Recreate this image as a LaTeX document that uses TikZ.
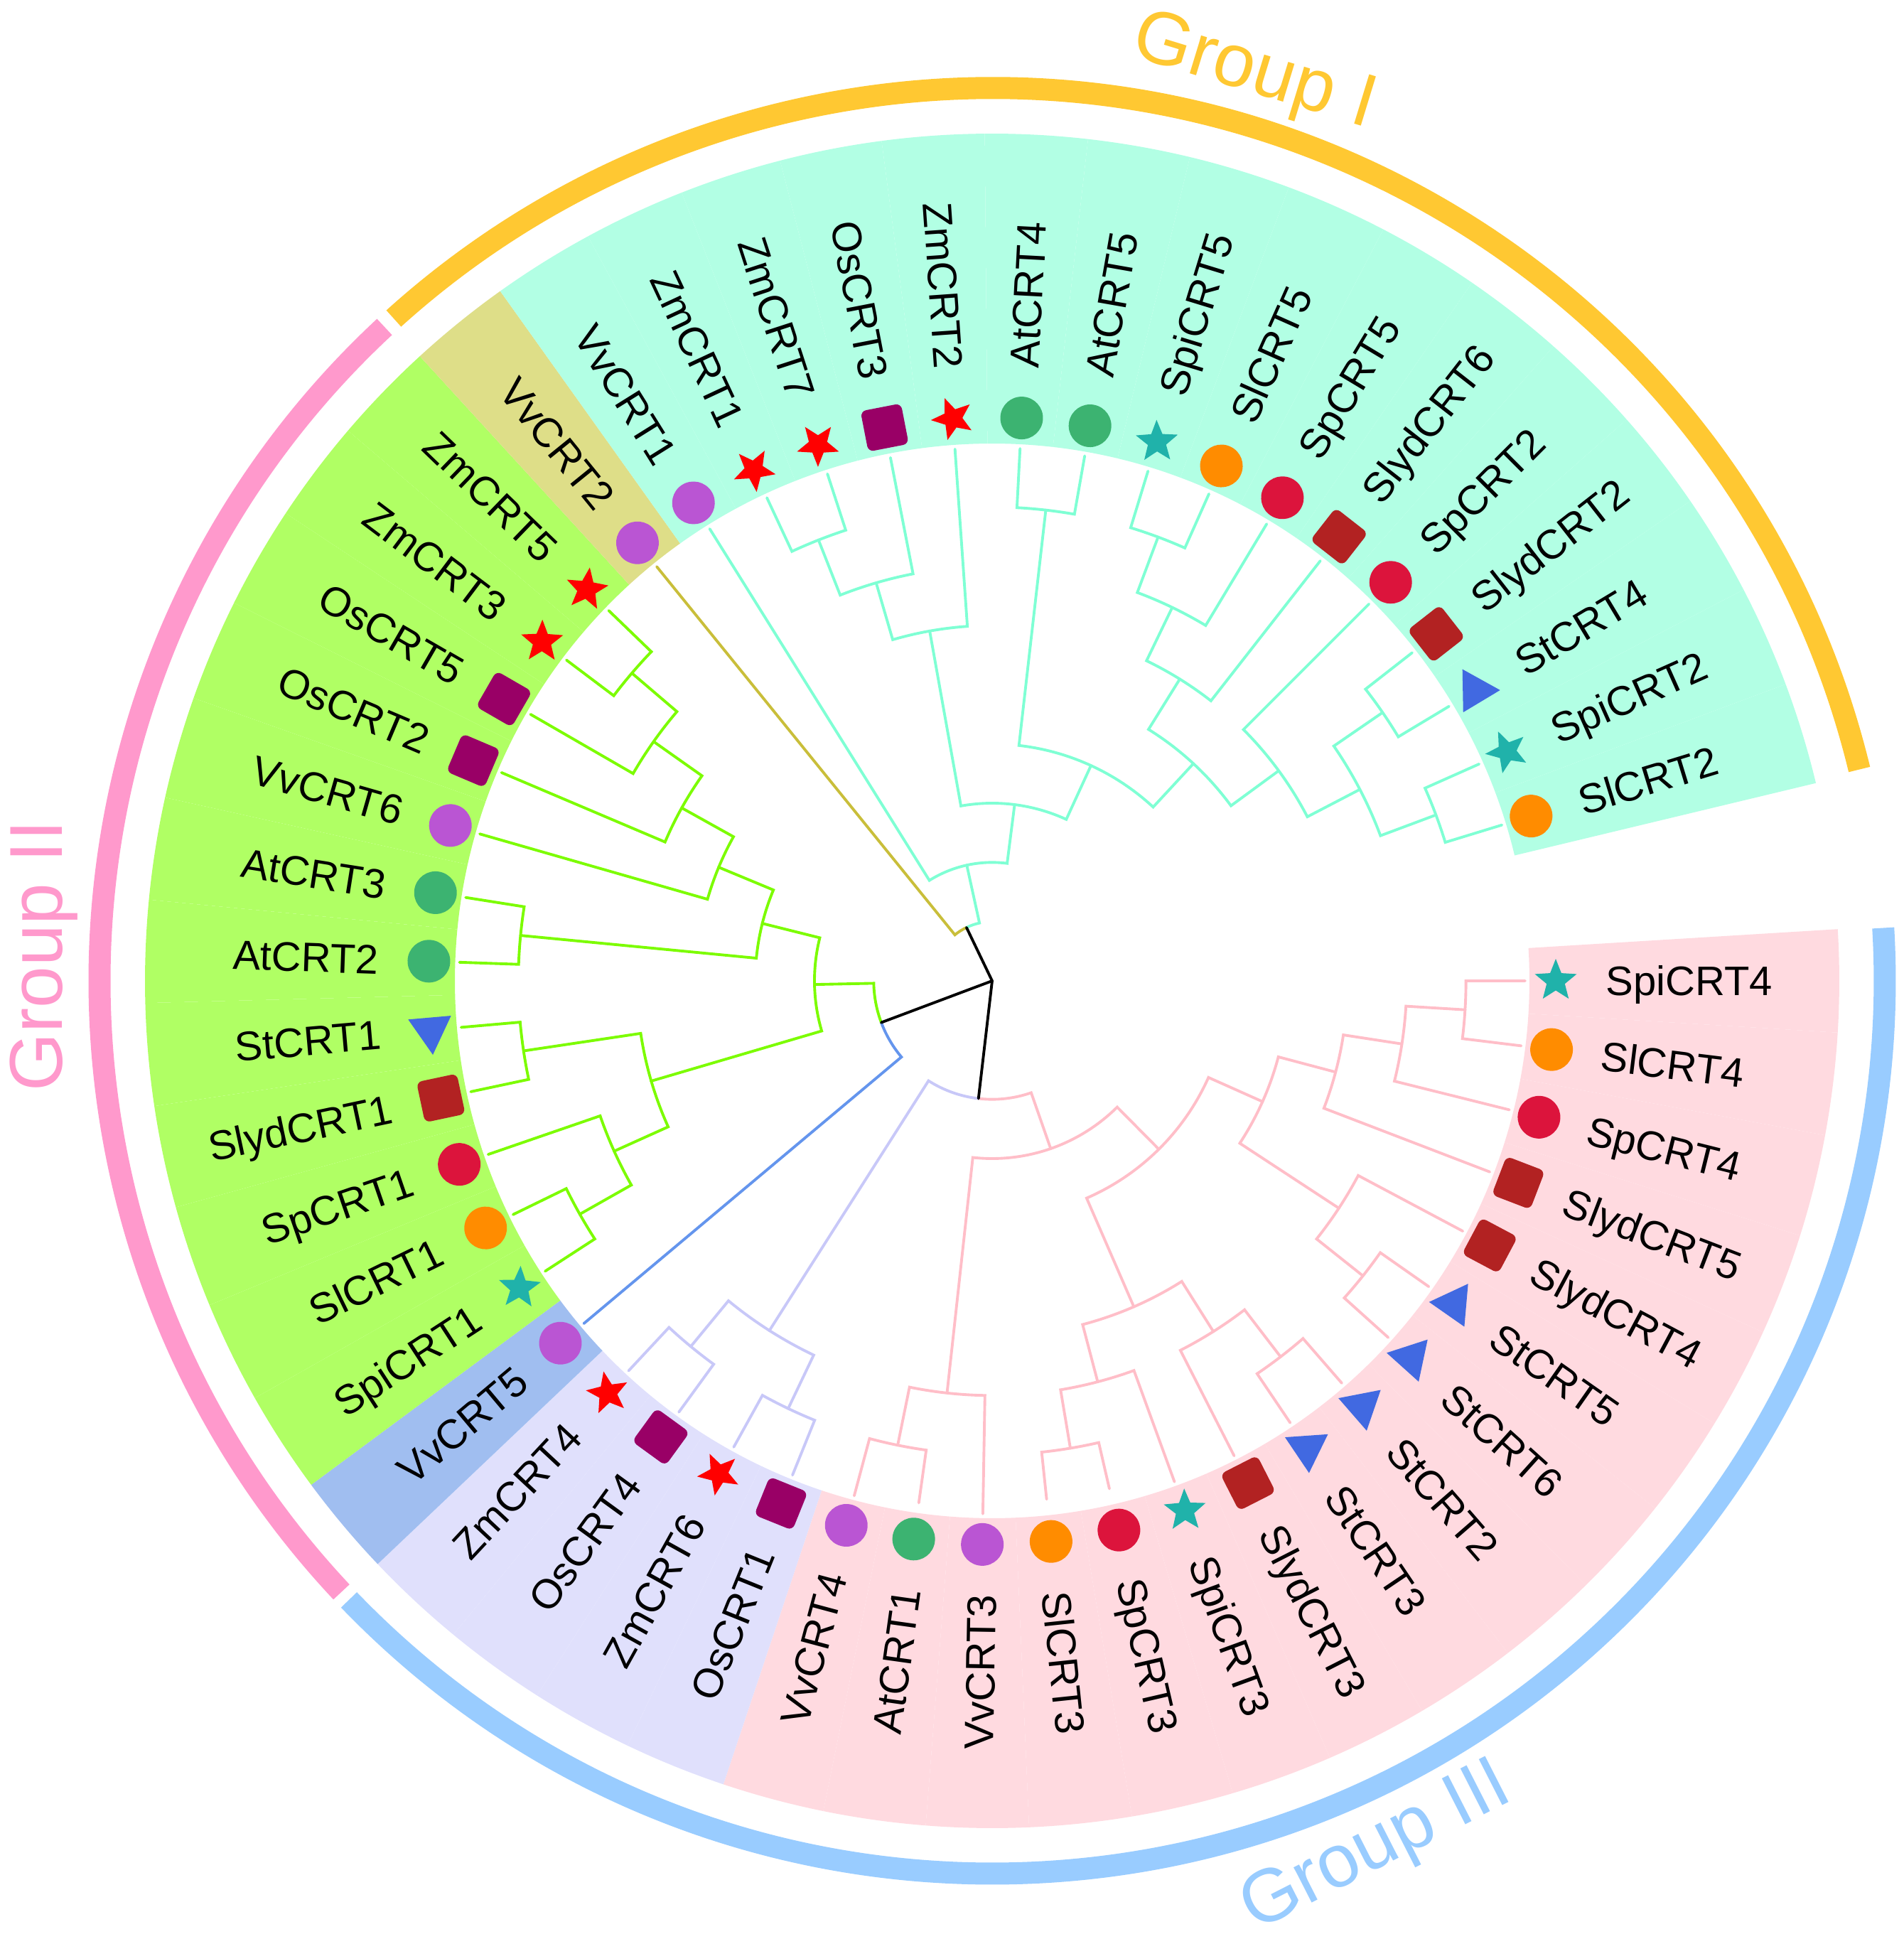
\documentclass[tikz,border=0pt]{standalone}
\usepackage{fontspec}
\setmainfont{Liberation Sans}
\usetikzlibrary{shapes.geometric}

\definecolor{bgaq}{RGB}{178,255,228}
\definecolor{bgol}{RGB}{222,222,136}
\definecolor{bggn}{RGB}{176,255,100}
\definecolor{bgbl}{RGB}{160,190,240}
\definecolor{bglv}{RGB}{224,224,252}
\definecolor{bgpk}{RGB}{255,218,224}
\definecolor{lnaq}{RGB}{127,255,212}
\definecolor{lnol}{RGB}{201,190,58}
\definecolor{lngn}{RGB}{124,252,0}
\definecolor{lnbl}{RGB}{100,149,237}
\definecolor{lnlv}{RGB}{200,200,248}
\definecolor{lnpk}{RGB}{255,190,200}
\definecolor{gI}{RGB}{255,200,50}
\definecolor{gII}{RGB}{255,153,204}
\definecolor{gIII}{RGB}{153,204,255}
\definecolor{cVv}{RGB}{186,85,211}
\definecolor{cAt}{RGB}{60,179,113}
\definecolor{cSl}{RGB}{255,140,0}
\definecolor{cSp}{RGB}{220,20,60}
\definecolor{cOs}{RGB}{153,0,102}
\definecolor{cSlyd}{RGB}{178,34,34}
\definecolor{cZm}{RGB}{255,0,0}
\definecolor{cSpi}{RGB}{32,178,170}
\definecolor{cSt}{RGB}{65,105,225}

\def\stp{0.83333}
\newcommand{\clade}[4]{\draw ({#1}:{#2*\stp}) -- ({#1}:{#3*\stp}) arc[start angle={#1}, end angle={#4}, radius={#3*\stp}];}

\begin{document}
\begin{tikzpicture}[
  lab/.style={font=\fontsize{16.5}{18}\selectfont, inner sep=0pt, text height=11.8pt, text depth=0pt},
  grp/.style={font=\fontsize{30}{32}\selectfont, inner sep=0pt},
  dot/.style={circle, minimum size=0.6cm, inner sep=0pt},
  box/.style={rectangle, rounded corners=0.08cm, minimum size=0.58cm, inner sep=0pt},
  pstar/.style={star, star points=5, star point ratio=2.3, minimum size=0.62cm, inner sep=0pt},
  tri/.style={regular polygon, regular polygon sides=3, minimum size=0.7cm, inner sep=0pt},
  Vv/.style={dot, fill=cVv}, At/.style={dot, fill=cAt}, Sl/.style={dot, fill=cSl}, Sp/.style={dot, fill=cSp},
  Os/.style={box, fill=cOs}, Slyd/.style={box, fill=cSlyd},
  Zm/.style={pstar, fill=cZm}, Spi/.style={pstar, fill=cSpi}, St/.style={tri, fill=cSt},
  br/.style={line width=1.1pt, line cap=round}
]
\useasboundingbox (-13.96,-13.48) rectangle (12.82,13.80);
\coordinate (root) at (0,0);

\foreach \nm/\mk/\gp [count=\k from 0] in {SpiCRT4/Spi/pk, SlCRT4/Sl/pk, SpCRT4/Sp/pk, SlydCRT5/Slyd/pk, SlydCRT4/Slyd/pk,
  StCRT5/St/pk, StCRT6/St/pk, StCRT2/St/pk, StCRT3/St/pk, SlydCRT3/Slyd/pk, SpiCRT3/Spi/pk, SpCRT3/Sp/pk, SlCRT3/Sl/pk,
  VvCRT3/Vv/pk, AtCRT1/At/pk, VvCRT4/Vv/pk, OsCRT1/Os/lv, ZmCRT6/Zm/lv, OsCRT4/Os/lv, ZmCRT4/Zm/lv, VvCRT5/Vv/bl,
  SpiCRT1/Spi/gn, SlCRT1/Sl/gn, SpCRT1/Sp/gn, SlydCRT1/Slyd/gn, StCRT1/St/gn, AtCRT2/At/gn, AtCRT3/At/gn, VvCRT6/Vv/gn,
  OsCRT2/Os/gn, OsCRT5/Os/gn, ZmCRT3/Zm/gn, ZmCRT5/Zm/gn, VvCRT2/Vv/ol, VvCRT1/Vv/aq, ZmCRT1/Zm/aq, ZmCRT7/Zm/aq,
  OsCRT3/Os/aq, ZmCRT2/Zm/aq, AtCRT4/At/aq, AtCRT5/At/aq, SpiCRT5/Spi/aq, SlCRT5/Sl/aq, SpCRT5/Sp/aq, SlydCRT6/Slyd/aq,
  SpCRT2/Sp/aq, SlydCRT2/Slyd/aq, StCRT4/St/aq, SpiCRT2/Spi/aq, SlCRT2/Sl/aq} {
  \pgfmathsetmacro\a{-7*\k}
  \fill[bg\gp] ({\a-3.5}:7.56) arc[start angle={\a-3.5}, end angle={\a+3.5}, radius=7.56]
    -- ({\a+3.5}:11.92) arc[start angle={\a+3.5}, end angle={\a-3.5}, radius=11.92] -- cycle;
  \node[\mk, rotate=\a] (m\k) at (\a:7.93) {};
  \ifnum\k>12\relax\ifnum\k<39\relax\def\anc{east}\pgfmathsetmacro\rot{\a+180}\else\def\anc{west}\let\rot\a\fi
  \else\def\anc{west}\let\rot\a\fi
  \node[lab, rotate=\rot, anchor=\anc] (t\k) at (\a:8.63) {\nm};
}

\begin{scope}[lnpk, br]
\clade{0}{9}{8}{-3.5}
\clade{-7}{9}{8}{-3.5}
\clade{-3.5}{8}{7}{-8.75}
\clade{-14}{9}{7}{-8.75}
\clade{-8.75}{7}{6}{-14.875}
\clade{-21}{9}{6}{-14.875}
\clade{-14.875}{6}{5}{-24.0625}
\clade{-35}{9}{8}{-38.5}
\clade{-42}{9}{8}{-38.5}
\clade{-38.5}{8}{7}{-33.25}
\clade{-28}{9}{7}{-33.25}
\clade{-33.25}{7}{5}{-24.0625}
\clade{-24.0625}{5}{4}{-45.28125}
\clade{-49}{9}{8}{-52.5}
\clade{-56}{9}{8}{-52.5}
\clade{-52.5}{8}{7}{-57.75}
\clade{-63}{9}{7}{-57.75}
\clade{-57.75}{7}{6}{-66.5}
\clade{-77}{8.8}{8}{-80.5}
\clade{-84}{8.8}{8}{-80.5}
\clade{-80.5}{8}{7}{-75.25}
\clade{-70}{9}{7}{-75.25}
\clade{-75.25}{7}{6}{-66.5}
\clade{-66.5}{6}{4}{-45.28125}
\clade{-45.28125}{4}{3}{-70.765625}
\clade{-98}{8.9}{8}{-101.5}
\clade{-105}{9}{8}{-101.5}
\clade{-101.5}{8}{7}{-96.25}
\clade{-91}{9}{7}{-96.25}
\clade{-96.25}{7}{3}{-70.765625}
\clade{-70.765625}{3}{2}{-96.6328}
\end{scope}
\begin{scope}[lnlv, br]
\clade{-112}{9}{8}{-115.5}
\clade{-119}{9}{8}{-115.5}
\clade{-115.5}{8}{7}{-122.5}
\clade{-126}{9}{8}{-129.5}
\clade{-133}{9}{8}{-129.5}
\clade{-129.5}{8}{7}{-122.5}
\clade{-122.5}{7}{2}{-96.6328}
\end{scope}
\begin{scope}[lnbl, br]
\clade{-140}{9}{2}{-159.4141}
\end{scope}
\begin{scope}[lngn, br]
\clade{-147}{9}{8}{-150.5}
\clade{-154}{9}{8}{-150.5}
\clade{-150.5}{8}{7}{-155.75}
\clade{-161}{9}{7}{-155.75}
\clade{-155.75}{7}{6}{-163.625}
\clade{-168}{9}{8}{-171.5}
\clade{-175}{9}{8}{-171.5}
\clade{-171.5}{8}{6}{-163.625}
\clade{-163.625}{6}{3}{-178.8281}
\clade{-182}{9}{8}{-185.5}
\clade{-189}{9}{8}{-185.5}
\clade{-185.5}{8}{4}{-194.0313}
\clade{-217}{9}{8}{-220.5}
\clade{-224}{9}{8}{-220.5}
\clade{-220.5}{8}{7}{-215.25}
\clade{-210}{9}{7}{-215.25}
\clade{-215.25}{7}{6}{-209.125}
\clade{-203}{9}{6}{-209.125}
\clade{-209.125}{6}{5}{-202.5625}
\clade{-196}{9}{5}{-202.5625}
\clade{-202.5625}{5}{4}{-194.0313}
\clade{-194.0313}{4}{3}{-178.8281}
\clade{-178.8281}{3}{2}{-159.4141}
\end{scope}
\begin{scope}[lnol, br]
\clade{-231}{9}{1}{-244.3164}
\end{scope}
\begin{scope}[lnaq, br]
\clade{-245}{9}{8}{-248.5}
\clade{-252}{9}{8}{-248.5}
\clade{-248.5}{8}{7}{-253.75}
\clade{-259}{9}{7}{-253.75}
\clade{-253.75}{7}{6}{-259.875}
\clade{-266}{9}{6}{-259.875}
\clade{-259.875}{6}{3}{-277.2656}
\clade{-273}{9}{8}{-276.5}
\clade{-280}{9}{8}{-276.5}
\clade{-276.5}{8}{4}{-294.6563}
\clade{-287}{9}{8}{-290.5}
\clade{-294}{9}{8}{-290.5}
\clade{-290.5}{8}{7}{-295.75}
\clade{-301}{9}{7}{-295.75}
\clade{-295.75}{7}{6}{-301.875}
\clade{-308}{9}{6}{-301.875}
\clade{-301.875}{6}{5}{-312.8125}
\clade{-322}{9}{8}{-325.5}
\clade{-329}{9}{8}{-325.5}
\clade{-325.5}{8}{7}{-332.5}
\clade{-336}{9}{8}{-339.5}
\clade{-343}{9}{8}{-339.5}
\clade{-339.5}{8}{7}{-332.5}
\clade{-332.5}{7}{6}{-323.75}
\clade{-315}{9}{6}{-323.75}
\clade{-323.75}{6}{5}{-312.8125}
\clade{-312.8125}{5}{4}{-294.6563}
\clade{-294.6563}{4}{3}{-277.2656}
\clade{-277.2656}{3}{2}{-257.6328}
\clade{-238}{9}{2}{-257.6328}
\clade{-257.6328}{2}{1}{-244.3164}
\end{scope}
\draw[br, black] (root) -- ({-244.3164}:{\stp});
\draw[br, black] (root) -- ({-159.4141}:{2*\stp});
\draw[br, black] (root) -- ({-96.6328}:{2*\stp});

\draw[gI, line width=0.31cm] (13.7:12.56) arc[start angle=13.7, end angle=132.1, radius=12.56];
\draw[gII, line width=0.31cm] (132.9:12.56) arc[start angle=132.9, end angle=223.2, radius=12.56];
\draw[gIII, line width=0.31cm] (223.9:12.56) arc[start angle=223.9, end angle=363.4, radius=12.56];
\node[grp, gI, rotate=-17] (g1) at (73.9:13.28) {Group I};
\node[grp, gII, rotate=90] (g2) at (178.5:13.35) {Group II};
\node[grp, gIII, rotate=27] (g3) at (-66.1:13.36) {Group III};
\end{tikzpicture}
\end{document}
